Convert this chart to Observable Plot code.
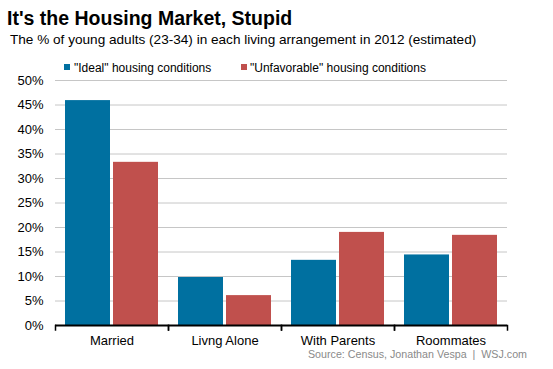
<!DOCTYPE html>
<html>
<head>
<meta charset="utf-8">
<script src="https://cdn.jsdelivr.net/npm/d3@7"></script>
<script src="https://cdn.jsdelivr.net/npm/@observablehq/plot@0.6"></script>
<style>
  body { margin: 0; background: #fff; font-family: "Liberation Sans", Arial, sans-serif; }
  #chart { position: relative; width: 553px; height: 369px; overflow: hidden; }
  .t { position: absolute; white-space: nowrap; }
  #title { left: 7px; top: 9.2px; font-size: 19.5px; line-height: 19.5px; font-weight: bold; color: #000; }
  #subtitle { left: 10px; top: 32.8px; font-size: 13.6px; line-height: 13.6px; color: #000; }
  #legend { left: 64px; top: 61.5px; font-size: 12px; line-height: 12px; color: #000; }
  .item { position: absolute; top: 0; white-space: nowrap; }
  .sw { position: absolute; top: 2.8px; width: 6px; height: 6px; }
  #source { right: 26px; top: 348.9px; font-size: 10.7px; line-height: 10.7px; color: #8a8a8a; }
  #plot { position: absolute; left: 0; top: 60px; }
</style>
</head>
<body>
<div id="chart">
  <div id="title" class="t"></div>
  <div id="subtitle" class="t"></div>
  <div id="legend" class="t"></div>
  <div id="plot"></div>
  <div id="source" class="t"></div>
</div>
<script>
const title = "It's the Housing Market, Stupid";
const subtitle = "The % of young adults (23-34) in each living arrangement in 2012 (estimated)";
const source = "Source: Census, Jonathan Vespa\u00a0\u00a0|\u00a0\u00a0WSJ.com";
const categories = ["Married", "Livng Alone", "With Parents", "Roommates"];
const series = ["\"Ideal\" housing conditions", "\"Unfavorable\" housing conditions"];
const ideal = [0.459, 0.098, 0.133, 0.144];
const unfavorable = [0.333, 0.061, 0.190, 0.184];
const colors = ["#0070a0", "#c0504d"];
const yTicks = [0, 0.05, 0.10, 0.15, 0.20, 0.25, 0.30, 0.35, 0.40, 0.45, 0.50];

document.getElementById("title").textContent = title;
document.getElementById("subtitle").textContent = subtitle;
document.getElementById("source").textContent = source;

const legendX = [0, 176.7];
const legend = document.getElementById("legend");
series.forEach((s, i) => {
  const it = document.createElement("div");
  it.className = "item";
  it.style.left = legendX[i] + "px";
  const sw = document.createElement("span");
  sw.className = "sw";
  sw.style.left = "0px";
  sw.style.background = colors[i];
  const tx = document.createElement("span");
  tx.style.marginLeft = (i === 0 ? 10 : 9.3) + "px";
  tx.textContent = s;
  it.appendChild(sw);
  it.appendChild(tx);
  legend.appendChild(it);
});

const data = categories.flatMap((c, i) => [
  {category: c, series: series[0], value: ideal[i]},
  {category: c, series: series[1], value: unfavorable[i]}
]);

const chart = Plot.plot({
  width: 553,
  height: 290,
  marginTop: 20,
  marginBottom: 25,
  marginLeft: 53,
  marginRight: 45,
  style: {fontFamily: "'Liberation Sans', Arial, sans-serif", fontSize: "13px", color: "#000", background: "transparent"},
  fx: {domain: categories, padding: 0, label: null},
  x: {domain: series, paddingInner: 0.055, paddingOuter: 0.196, axis: null},
  y: {domain: [0, 0.5], label: null},
  color: {domain: series, range: colors},
  marks: [
    Plot.gridY(yTicks.slice(1), {stroke: "#c6c6c6", strokeOpacity: 1, strokeWidth: 1}),
    Plot.axisY(yTicks, {tickSize: 0, tickPadding: 12, tickFormat: d3.format(".0%"), label: null, fontSize: 13, fill: "#000"}),
    Plot.barY(data, {fx: "category", x: "series", y: "value", fill: "series"}),
    Plot.ruleY([0], {stroke: "#000", strokeWidth: 2}),
    Plot.frame({anchor: "left", insetTop: 245, insetBottom: -4.5, stroke: "#000", strokeWidth: 1.5}),
    Plot.frame({anchor: "right", insetTop: 245, insetBottom: -4.5, stroke: "#000", strokeWidth: 1.5}),
    Plot.axisFx({anchor: "bottom", tickSize: 0, tickPadding: 10, label: null, fontSize: 13, fill: "#000"})
  ]
});
document.getElementById("plot").appendChild(chart);
</script>
</body>
</html>
